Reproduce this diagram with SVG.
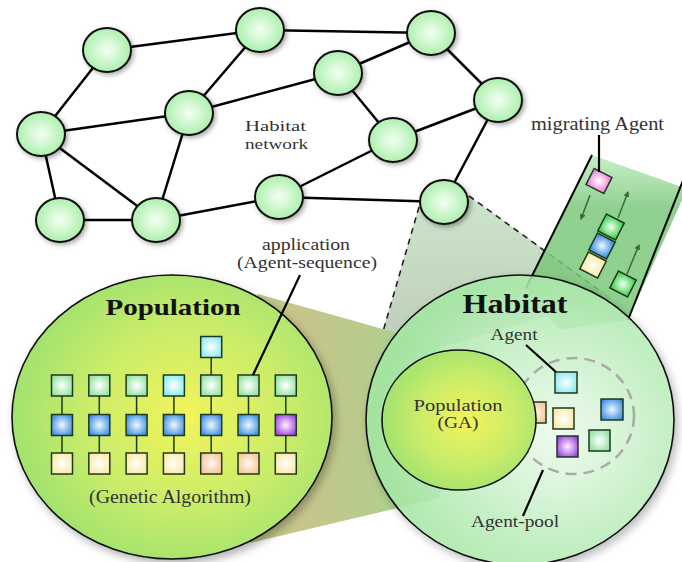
<svg xmlns="http://www.w3.org/2000/svg" width="682" height="562" viewBox="0 0 682 562">
<defs>
<filter id="sh" x="-20%" y="-20%" width="150%" height="150%"><feDropShadow dx="2" dy="2" stdDeviation="2.5" flood-color="#000" flood-opacity="0.35"/></filter>
<filter id="shb" x="-10%" y="-10%" width="130%" height="130%"><feDropShadow dx="3" dy="4" stdDeviation="4" flood-color="#000" flood-opacity="0.3"/></filter>
<radialGradient id="gNode" cx="0.5" cy="0.5" r="0.55"><stop offset="0" stop-color="#f4fff4"/><stop offset="1" stop-color="#a6eea6"/></radialGradient>
<radialGradient id="gPop" cx="0.55" cy="0.5" r="0.6"><stop offset="0" stop-color="#f2f45a"/><stop offset="0.55" stop-color="#c8ec6a"/><stop offset="1" stop-color="#98e070"/></radialGradient>
<radialGradient id="gHab" cx="0.62" cy="0.55" r="0.6"><stop offset="0" stop-color="#f2fff2"/><stop offset="1" stop-color="#a4eaa4"/></radialGradient>
<linearGradient id="gOlive" x1="0" y1="0" x2="1" y2="0"><stop offset="0" stop-color="#a8d878"/><stop offset="0.4" stop-color="#c8c48c"/><stop offset="0.7" stop-color="#b8cc8c"/><stop offset="1" stop-color="#98d890"/></linearGradient>
<linearGradient id="gGray" x1="0" y1="0" x2="0" y2="1"><stop offset="0" stop-color="#c8e2c6"/><stop offset="1" stop-color="#b4c4ae"/></linearGradient>
<linearGradient id="gBand" x1="0" y1="0" x2="0" y2="1"><stop offset="0" stop-color="#9ade9a" stop-opacity="0.55"/><stop offset="0.3" stop-color="#7cc87c" stop-opacity="0.85"/><stop offset="1" stop-color="#7cc87c" stop-opacity="0.85"/></linearGradient>
<radialGradient id="sqG" cx="0.5" cy="0.5" r="0.6"><stop offset="0" stop-color="#ffffff"/><stop offset="1" stop-color="#8ee29e"/></radialGradient>
<radialGradient id="sqGs" cx="0.5" cy="0.5" r="0.6"><stop offset="0" stop-color="#f4fff4"/><stop offset="1" stop-color="#3cd04c"/></radialGradient>
<radialGradient id="sqC" cx="0.5" cy="0.5" r="0.6"><stop offset="0" stop-color="#ffffff"/><stop offset="1" stop-color="#84eaf0"/></radialGradient>
<radialGradient id="sqB" cx="0.5" cy="0.5" r="0.6"><stop offset="0" stop-color="#eef8ff"/><stop offset="1" stop-color="#3a8de0"/></radialGradient>
<radialGradient id="sqP" cx="0.5" cy="0.5" r="0.6"><stop offset="0" stop-color="#fff0ff"/><stop offset="1" stop-color="#9a40e0"/></radialGradient>
<radialGradient id="sqY" cx="0.5" cy="0.5" r="0.6"><stop offset="0" stop-color="#ffffff"/><stop offset="1" stop-color="#fbe8a0"/></radialGradient>
<radialGradient id="sqO" cx="0.5" cy="0.5" r="0.6"><stop offset="0" stop-color="#fff8f0"/><stop offset="1" stop-color="#f5c490"/></radialGradient>
<radialGradient id="sqK" cx="0.5" cy="0.5" r="0.6"><stop offset="0" stop-color="#ffffff"/><stop offset="1" stop-color="#f080d8"/></radialGradient>
<marker id="ah" viewBox="0 0 10 10" refX="8" refY="5" markerWidth="4" markerHeight="4" orient="auto"><path d="M0,0 L10,5 L0,10 z" fill="#3a6a3a"/></marker>
</defs>
<style>
.edge{stroke:#000;stroke-width:2.5;fill:none}
.node{fill:url(#gNode);stroke:#111;stroke-width:2;filter:url(#sh)}
.sq{stroke:#1e3a1e;stroke-width:1.5}
.link{stroke:#1e3a1e;stroke-width:1.5}
.lbl{font-family:"Liberation Serif","DejaVu Serif",serif;fill:#333}
.big{font-family:"Liberation Serif","DejaVu Serif",serif;font-weight:bold;fill:#111}
.dash{stroke:#222;stroke-width:1.6;stroke-dasharray:6 5;fill:none}
.arr{stroke:#3a6a3a;stroke-width:1.5;marker-end:url(#ah)}
.ptr{stroke:#000;stroke-width:2.2}
</style>
<rect width="682" height="562" fill="#fff"/>

<g id="connectors">
<line class="edge" x1="107" y1="50" x2="260" y2="30"/>
<line class="edge" x1="107" y1="50" x2="41" y2="134"/>
<line class="edge" x1="260" y1="30" x2="189" y2="113"/>
<line class="edge" x1="189" y1="113" x2="338" y2="73"/>
<line class="edge" x1="41" y1="134" x2="189" y2="113"/>
<line class="edge" x1="41" y1="134" x2="156" y2="220"/>
<line class="edge" x1="41" y1="134" x2="60" y2="220"/>
<line class="edge" x1="189" y1="113" x2="156" y2="220"/>
<line class="edge" x1="60" y1="220" x2="156" y2="220"/>
<line class="edge" x1="156" y1="220" x2="279" y2="197"/>
<line class="edge" x1="279" y1="197" x2="393" y2="140"/>
<line class="edge" x1="279" y1="197" x2="444" y2="202"/>
<line class="edge" x1="260" y1="30" x2="431" y2="33"/>
<line class="edge" x1="338" y1="73" x2="431" y2="33"/>
<line class="edge" x1="338" y1="73" x2="393" y2="140"/>
<line class="edge" x1="431" y1="33" x2="498" y2="100"/>
<line class="edge" x1="393" y1="140" x2="498" y2="100"/>
<line class="edge" x1="498" y1="100" x2="444" y2="202"/>
</g>

<g id="zoom-cone">
<polygon points="419,206 469,196 612,298 500,330 372,368" fill="url(#gGray)" opacity="0.9"/>
<line class="dash" x1="419" y1="207" x2="373" y2="366"/>
<line class="dash" x1="469" y1="196" x2="603" y2="293"/>
</g>

<g id="nodes">
<g id="n1"><ellipse class="node" cx="107" cy="50" rx="24" ry="22"/></g>
<g id="n2"><ellipse class="node" cx="260" cy="30" rx="24" ry="22"/></g>
<g id="n3"><ellipse class="node" cx="338" cy="73" rx="24" ry="22"/></g>
<g id="n4"><ellipse class="node" cx="189" cy="113" rx="24" ry="22"/></g>
<g id="n5"><ellipse class="node" cx="41" cy="134" rx="24" ry="22"/></g>
<g id="n6"><ellipse class="node" cx="60" cy="220" rx="24" ry="22"/></g>
<g id="n7"><ellipse class="node" cx="156" cy="220" rx="24" ry="22"/></g>
<g id="n8"><ellipse class="node" cx="279" cy="197" rx="24" ry="22"/></g>
<g id="n9"><ellipse class="node" cx="431" cy="33" rx="24" ry="22"/></g>
<g id="n10"><ellipse class="node" cx="498" cy="100" rx="24" ry="22"/></g>
<g id="n11"><ellipse class="node" cx="393" cy="140" rx="24" ry="22"/></g>
<g id="n12"><ellipse class="node" cx="444" cy="202" rx="24" ry="22"/></g>
</g>

<g id="network-label">
<text class="lbl" x="245" y="131" font-size="15" textLength="61" lengthAdjust="spacingAndGlyphs">Habitat</text>
<text class="lbl" x="245" y="149" font-size="15" textLength="63" lengthAdjust="spacingAndGlyphs">network</text>
</g>

<g id="migration-band">
<polygon points="592,155 682,187 682,200 628,320 560,330 526,290" fill="url(#gBand)"/>
<line x1="592" y1="155" x2="526" y2="288" stroke="#000" stroke-width="2"/>
<line x1="684" y1="178" x2="628" y2="320" stroke="#000" stroke-width="2"/>
<line class="arr" x1="590" y1="195" x2="581" y2="219"/>
<line class="arr" x1="618" y1="218" x2="628" y2="192"/>
<line class="arr" x1="627" y1="274" x2="639" y2="245"/>
<rect class="sq" x="-10" y="-9" width="20" height="18" fill="url(#sqK)" transform="translate(599,181) rotate(27)"/>
<rect class="sq" x="-10" y="-9.5" width="20" height="19" fill="url(#sqGs)" transform="translate(611,227) rotate(27)"/>
<rect class="sq" x="-10" y="-9.5" width="20" height="19" fill="url(#sqB)" transform="translate(602,246) rotate(27)"/>
<rect class="sq" x="-10" y="-9.5" width="20" height="19" fill="url(#sqY)" transform="translate(593,265) rotate(27)"/>
<rect class="sq" x="-10" y="-9.5" width="20" height="19" fill="url(#sqGs)" transform="translate(623,284) rotate(27)"/>
<line class="ptr" x1="599" y1="135" x2="599" y2="172"/>
<text class="lbl" x="531" y="130" font-size="18" textLength="133" lengthAdjust="spacingAndGlyphs">migrating Agent</text>
</g>

<g id="population-cone">
<polygon points="258,294 440,345 440,498 250,543 200,420" fill="url(#gOlive)"/>
</g>

<g id="population">
<ellipse cx="172" cy="417" rx="160" ry="142" fill="url(#gPop)" stroke="#111" stroke-width="1.6" filter="url(#shb)"/>
<text class="big" x="173" y="315" font-size="24" text-anchor="middle" textLength="135" lengthAdjust="spacingAndGlyphs">Population</text>
<g id="chromosomes">
<line class="link" x1="62" y1="385" x2="62" y2="463"/>
<line class="link" x1="99.3" y1="385" x2="99.3" y2="463"/>
<line class="link" x1="136.6" y1="385" x2="136.6" y2="463"/>
<line class="link" x1="173.9" y1="385" x2="173.9" y2="463"/>
<line class="link" x1="211.2" y1="347" x2="211.2" y2="463"/>
<line class="link" x1="248.5" y1="385" x2="248.5" y2="463"/>
<line class="link" x1="285.8" y1="385" x2="285.8" y2="463"/>
<rect class="sq" x="200.7" y="336.5" width="21" height="21" fill="url(#sqC)"/>
<rect class="sq" x="51.5" y="375" width="21" height="21" fill="url(#sqG)"/>
<rect class="sq" x="88.8" y="375" width="21" height="21" fill="url(#sqG)"/>
<rect class="sq" x="126.1" y="375" width="21" height="21" fill="url(#sqG)"/>
<rect class="sq" x="163.4" y="375" width="21" height="21" fill="url(#sqC)"/>
<rect class="sq" x="200.7" y="375" width="21" height="21" fill="url(#sqG)"/>
<rect class="sq" x="238" y="375" width="21" height="21" fill="url(#sqG)"/>
<rect class="sq" x="275.3" y="375" width="21" height="21" fill="url(#sqG)"/>
<rect class="sq" x="51.5" y="414.5" width="21" height="21" fill="url(#sqB)"/>
<rect class="sq" x="88.8" y="414.5" width="21" height="21" fill="url(#sqB)"/>
<rect class="sq" x="126.1" y="414.5" width="21" height="21" fill="url(#sqB)"/>
<rect class="sq" x="163.4" y="414.5" width="21" height="21" fill="url(#sqB)"/>
<rect class="sq" x="200.7" y="414.5" width="21" height="21" fill="url(#sqB)"/>
<rect class="sq" x="238" y="414.5" width="21" height="21" fill="url(#sqB)"/>
<rect class="sq" x="275.3" y="414.5" width="21" height="21" fill="url(#sqP)"/>
<rect class="sq" x="51.5" y="453" width="21" height="21" fill="url(#sqY)"/>
<rect class="sq" x="88.8" y="453" width="21" height="21" fill="url(#sqY)"/>
<rect class="sq" x="126.1" y="453" width="21" height="21" fill="url(#sqY)"/>
<rect class="sq" x="163.4" y="453" width="21" height="21" fill="url(#sqY)"/>
<rect class="sq" x="200.7" y="453" width="21" height="21" fill="url(#sqO)"/>
<rect class="sq" x="238" y="453" width="21" height="21" fill="url(#sqO)"/>
<rect class="sq" x="275.3" y="453" width="21" height="21" fill="url(#sqY)"/>
</g>
<text class="lbl" x="170" y="503" font-size="18" text-anchor="middle" textLength="162" lengthAdjust="spacingAndGlyphs">(Genetic Algorithm)</text>
</g>

<g id="application-label">
<line class="ptr" x1="300" y1="275" x2="253" y2="375"/>
<text class="lbl" x="306" y="250" font-size="16" text-anchor="middle" textLength="88" lengthAdjust="spacingAndGlyphs">application</text>
<text class="lbl" x="307" y="268" font-size="16" text-anchor="middle" textLength="140" lengthAdjust="spacingAndGlyphs">(Agent-sequence)</text>
</g>

<g id="habitat">
<ellipse cx="520" cy="420" rx="154" ry="145" fill="url(#gHab)" fill-opacity="0.85" stroke="#111" stroke-width="1.6" filter="url(#shb)"/>
<text class="big" x="515" y="313" font-size="28" text-anchor="middle" textLength="105" lengthAdjust="spacingAndGlyphs">Habitat</text>
<ellipse cx="574" cy="416" rx="60" ry="58" fill="none" stroke="#aaa" stroke-width="2.5" stroke-dasharray="11 7"/>
<rect class="sq" x="525" y="402" width="21" height="21" fill="url(#sqO)"/>
<g id="inner-population">
<ellipse cx="459" cy="420" rx="77" ry="70" fill="url(#gPop)" stroke="#111" stroke-width="1.6"/>
<text class="lbl" x="458" y="411" font-size="16" text-anchor="middle" textLength="89" lengthAdjust="spacingAndGlyphs" fill="#222">Population</text>
<text class="lbl" x="458" y="428" font-size="16" text-anchor="middle" textLength="41" lengthAdjust="spacingAndGlyphs" fill="#222">(GA)</text>
</g>
<rect class="sq" x="555" y="372" width="22" height="21" fill="url(#sqC)"/>
<rect class="sq" x="553" y="408" width="21" height="21" fill="url(#sqY)"/>
<rect class="sq" x="601" y="399" width="22" height="21" fill="url(#sqB)"/>
<rect class="sq" x="557" y="436" width="21" height="21" fill="url(#sqP)"/>
<rect class="sq" x="589" y="430" width="21" height="21" fill="url(#sqG)"/>
<line class="ptr" x1="526" y1="345" x2="556" y2="372"/>
<text class="lbl" x="514" y="340" font-size="16" text-anchor="middle" textLength="47" lengthAdjust="spacingAndGlyphs">Agent</text>
<line class="ptr" x1="543" y1="470" x2="523" y2="516"/>
<text class="lbl" x="515" y="527" font-size="16" text-anchor="middle" textLength="88" lengthAdjust="spacingAndGlyphs">Agent-pool</text>
</g>
</svg>
